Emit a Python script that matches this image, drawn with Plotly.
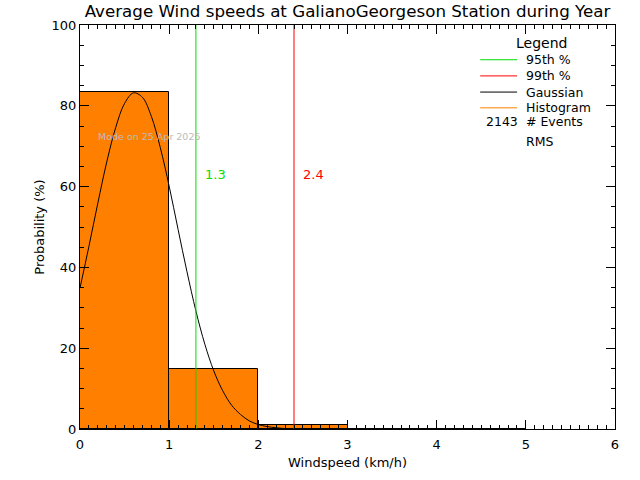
import plotly.graph_objects as go

# Histogram bins (km/h) and probabilities (%)
bin_left = [0, 1, 2, 3, 4]
bin_prob = [83.4, 14.8, 0.9, 0.12, 0.1]

# Gaussian fit curve
gauss_x = [0.0, 0.1, 0.2, 0.3, 0.4, 0.5, 0.6, 0.7, 0.8, 0.9, 1.0, 1.1, 1.2,
           1.3, 1.4, 1.5, 1.6, 1.7, 1.8, 1.9, 2.0, 2.1, 2.2, 2.3, 2.4]
gauss_y = [34.9, 45.2, 55.9, 66.1, 74.6, 80.6, 83.2, 82.1, 77.4, 69.7, 60.1,
           49.4, 38.9, 29.2, 21.0, 14.4, 9.5, 5.9, 3.6, 2.0, 1.1, 0.6, 0.3,
           0.1, 0.06]

p95 = 1.3
p99 = 2.4
n_events = 2143
title = "Average Wind speeds at GalianoGeorgeson Station during Year"
mode_text = "Mode on 25 Apr 2025"

X_RANGE = [0, 6]
Y_RANGE = [0, 100]

FONT = "DejaVu Sans"
ORANGE = "#FF8000"
GREEN = "#00DD00"
RED = "#FF0000"

fig = go.Figure()

fig.add_trace(go.Bar(
    x=[b + 0.5 for b in bin_left], y=bin_prob, width=1.0,
    marker=dict(color=ORANGE, line=dict(color="black", width=1)),
    showlegend=False, hoverinfo="skip"))

fig.add_trace(go.Scatter(
    x=gauss_x, y=gauss_y, mode="lines",
    line=dict(color="black", width=1, shape="spline"),
    showlegend=False, hoverinfo="skip"))

for val, col in [(p95, GREEN), (p99, RED)]:
    fig.add_trace(go.Scatter(x=[val, val], y=Y_RANGE, mode="lines",
                             line=dict(color=col, width=1),
                             showlegend=False, hoverinfo="skip"))
    fig.add_annotation(x=val + 0.08, y=63, text=f"{val:.1f}", showarrow=False,
                       xanchor="left", yanchor="middle",
                       font=dict(family=FONT, size=13, color=col))

# empty trace so that the mirrored (top/right) tick axes are drawn
fig.add_trace(go.Scatter(x=[None], y=[None], xaxis="x2", yaxis="y2",
                         mode="lines", showlegend=False, hoverinfo="skip"))

fig.add_annotation(x=0.18, y=72.5, text=mode_text, showarrow=False,
                   xanchor="left", yanchor="middle",
                   font=dict(family=FONT, size=9.5, color="#BBBBBB"))

# Legend (drawn by hand, IDL style)
fig.add_annotation(xref="paper", yref="paper", x=0.862, y=0.956, text="Legend",
                   showarrow=False, xanchor="center", yanchor="middle",
                   font=dict(family=FONT, size=14, color="black"))
leg_rows = [("95th %", GREEN, 0.914), ("99th %", RED, 0.874),
            ("Gaussian", "black", 0.834), ("Histogram", ORANGE, 0.795)]
for txt, col, yy in leg_rows:
    fig.add_shape(type="line", xref="paper", yref="paper",
                  x0=0.748, x1=0.817, y0=yy, y1=yy,
                  line=dict(color=col, width=1))
    fig.add_annotation(xref="paper", yref="paper", x=0.830, y=yy, text=txt,
                       showarrow=False, xanchor="left", yanchor="middle",
                       font=dict(family=FONT, size=12.5, color="black"))
fig.add_annotation(xref="paper", yref="paper", x=0.822, y=0.762,
                   text=str(n_events), showarrow=False, xanchor="right",
                   yanchor="middle", font=dict(family=FONT, size=12.5, color="black"))
fig.add_annotation(xref="paper", yref="paper", x=0.830, y=0.762,
                   text="# Events", showarrow=False, xanchor="left",
                   yanchor="middle", font=dict(family=FONT, size=12.5, color="black"))
fig.add_annotation(xref="paper", yref="paper", x=0.830, y=0.711,
                   text="RMS", showarrow=False, xanchor="left",
                   yanchor="middle", font=dict(family=FONT, size=12.5, color="black"))

axis_common = dict(showgrid=False, zeroline=False, showline=True,
                   linecolor="black", linewidth=1,
                   ticks="inside", ticklen=9, tickcolor="black",
                   tickfont=dict(family=FONT, size=13, color="black"))
x_minor = dict(dtick=0.1, ticks="inside", ticklen=4, tickcolor="black",
               showgrid=False)
y_minor = dict(dtick=5, ticks="inside", ticklen=4, tickcolor="black",
               showgrid=False)

fig.update_layout(
    xaxis=dict(range=X_RANGE, dtick=1, tick0=0, minor=x_minor,
               ticklabelstandoff=3,
               title=dict(text="Windspeed (km/h)", standoff=7,
                          font=dict(family=FONT, size=13, color="black")),
               **axis_common),
    yaxis=dict(range=Y_RANGE, dtick=20, tick0=0, minor=y_minor,
               title=dict(text="Probability (%)", standoff=4,
                          font=dict(family=FONT, size=13, color="black")),
               **axis_common),
    xaxis2=dict(range=X_RANGE, dtick=1, tick0=0, minor=x_minor,
                overlaying="x", side="top", showticklabels=False,
                **axis_common),
    yaxis2=dict(range=Y_RANGE, dtick=20, tick0=0, minor=y_minor,
                overlaying="y", side="right", showticklabels=False,
                **axis_common),
)

fig.update_layout(
    width=640, height=480,
    margin=dict(l=80, r=25, t=25, b=51),
    paper_bgcolor="white", plot_bgcolor="white",
    title=dict(text=title, x=0.5, xref="paper", xanchor="center",
               y=0.976, yanchor="middle",
               font=dict(family=FONT, size=16.7, color="black")),
    bargap=0, showlegend=False)

# Remove the browser's default 8px body margin so the figure sits at (0, 0)
fig.write_html("out.html",
               config={"displayModeBar": False},
               post_script="document.body.style.margin='0';")
